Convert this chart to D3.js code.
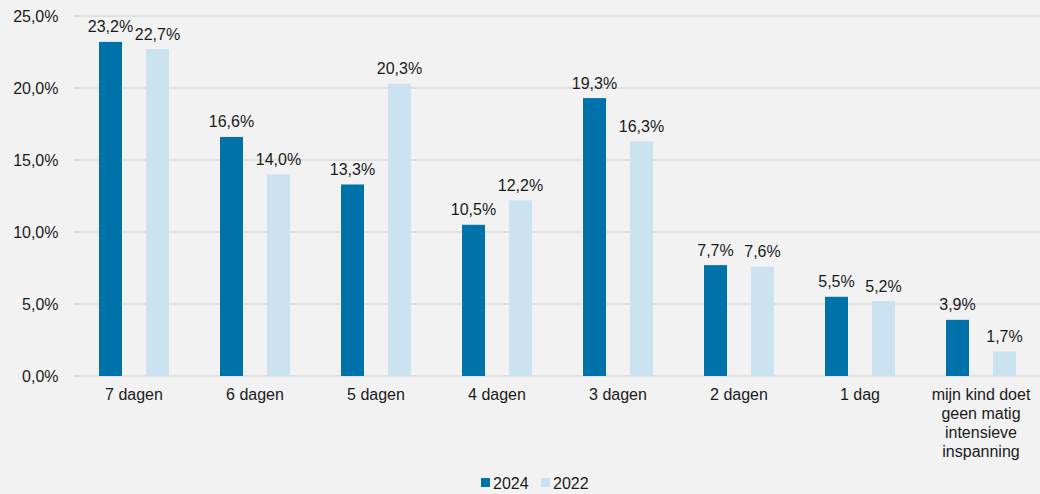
<!DOCTYPE html>
<html>
<head>
<meta charset="utf-8">
<script src="https://cdn.jsdelivr.net/npm/d3@7"></script>
<style>
  body { margin: 0; background: #f2f2f2; }
  svg { display: block; font-family: "Liberation Sans", Arial, sans-serif; }
</style>
</head>
<body>
<svg id="chart"></svg>
<script>
// data
const categories = ["7 dagen", "6 dagen", "5 dagen", "4 dagen", "3 dagen", "2 dagen", "1 dag",
    "mijn kind doet geen matig intensieve inspanning"];
const values2024 = [23.2, 16.6, 13.3, 10.5, 19.3, 7.7, 5.5, 3.9];
const values2022 = [22.7, 14.0, 20.3, 12.2, 16.3, 7.6, 5.2, 1.7];
const seriesNames = ["2024", "2022"];
const yTicks = [0, 5, 10, 15, 20, 25];

const width = 1040, height = 494;
const margin = {top: 16, right: 0, bottom: 118, left: 73.5};
const colors = ["#0072aa", "#cbe3f0"];

const svg = d3.select("#chart")
    .attr("width", width)
    .attr("height", height);

svg.append("rect").attr("width", width).attr("height", height).attr("fill", "#f2f2f2");

const x = d3.scaleBand()
    .domain(categories)
    .range([margin.left, margin.left + 8 * 121]);

const y = d3.scaleLinear()
    .domain([0, 25])
    .range([height - margin.bottom, margin.top]);

const fmt = v => d3.format(".1f")(v).replace(".", ",") + "%";

// gridlines
svg.append("g")
    .selectAll("line")
    .data(yTicks)
    .join("line")
    .attr("x1", margin.left)
    .attr("x2", width)
    .attr("y1", d => y(d))
    .attr("y2", d => y(d))
    .attr("stroke", "#d9d9d9")
    .attr("stroke-width", 1.3);

// y axis labels
const yAxis = svg.append("g")
    .attr("transform", `translate(${margin.left - 12},0)`)
    .call(d3.axisLeft(y).tickValues(yTicks).tickFormat(fmt).tickSize(0));
yAxis.select(".domain").remove();
yAxis.selectAll("text")
    .attr("font-size", 16)
    .attr("fill", "#1a1a1a")
    .attr("font-family", "Liberation Sans, Arial, sans-serif");

const barW = 23, gap = 24;
const series = [values2024, values2022];

series.forEach((vals, s) => {
    const offset = s === 0 ? -(gap / 2 + barW) : gap / 2;
    const g = svg.append("g");
    g.selectAll("rect")
        .data(categories)
        .join("rect")
        .attr("x", d => x(d) + x.bandwidth() / 2 + offset)
        .attr("width", barW)
        .attr("y", (d, i) => y(vals[i]))
        .attr("height", (d, i) => y(0) - y(vals[i]))
        .attr("fill", colors[s]);
    g.selectAll("text")
        .data(categories)
        .join("text")
        .attr("x", d => x(d) + x.bandwidth() / 2 + offset + barW / 2)
        .attr("y", (d, i) => y(vals[i]) - 9.5)
        .attr("text-anchor", "middle")
        .attr("font-size", 16)
        .attr("fill", "#1a1a1a")
        .text((d, i) => fmt(vals[i]));
});

// category labels, wrapped
const wrapLines = {
    "mijn kind doet geen matig intensieve inspanning": ["mijn kind doet", "geen matig", "intensieve", "inspanning"]
};
svg.append("g")
    .selectAll("text")
    .data(categories)
    .join("text")
    .attr("x", d => x(d) + x.bandwidth() / 2)
    .attr("y", y(0) + 24)
    .attr("text-anchor", "middle")
    .attr("font-size", 16)
    .attr("fill", "#1a1a1a")
    .each(function(d) {
        const lines = wrapLines[d] || [d];
        d3.select(this).selectAll("tspan")
            .data(lines)
            .join("tspan")
            .attr("x", x(d) + x.bandwidth() / 2)
            .attr("dy", (l, i) => i === 0 ? 0 : 19)
            .text(l => l);
    });

// legend
const legend = svg.append("g").attr("transform", "translate(481,478)");
const legendX = [0, 60];
seriesNames.forEach((n, i) => {
    legend.append("rect")
        .attr("x", legendX[i])
        .attr("y", 0)
        .attr("width", 9)
        .attr("height", 9)
        .attr("fill", colors[i]);
    legend.append("text")
        .attr("x", legendX[i] + 12)
        .attr("y", 10.5)
        .attr("font-size", 16)
        .attr("fill", "#1a1a1a")
        .text(n);
});
</script>
</body>
</html>
